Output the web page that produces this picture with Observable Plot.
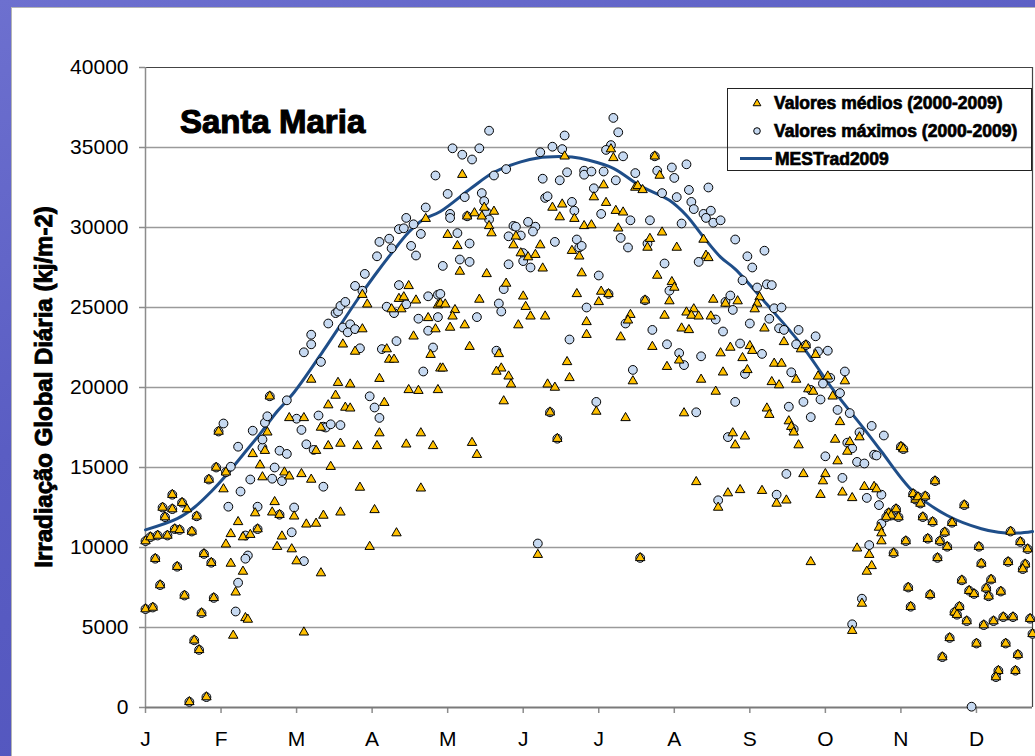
<!DOCTYPE html>
<html>
<head>
<meta charset="utf-8">
<script src="https://cdn.jsdelivr.net/npm/d3@7"></script>
<script src="https://cdn.jsdelivr.net/npm/@observablehq/plot@0.6"></script>
<style>
  html, body { margin: 0; padding: 0; }
  body {
    width: 1035px; height: 756px; overflow: hidden; position: relative;
    background: linear-gradient(160deg, #6d70cf 0%, #5a5dc3 40%, #4e51bb 100%);
    font-family: "Liberation Sans", Arial, sans-serif;
  }
  #panel {
    position: absolute; left: 11px; top: 7px; width: 1030px; height: 755px;
    background: #ffffff; border-left: 1.5px solid #b4b4b4; border-top: 1.5px solid #b4b4b4;
  }
  #chart { position: absolute; left: 0; top: 0; }
  #overlay { position: absolute; left: 0; top: 0; pointer-events: none; }
  #chart svg [aria-label="x-axis tick"] path,
  #chart svg [aria-label="y-axis tick"] path,
  #chart svg [aria-label="x-axis"] line,
  #chart svg [aria-label="y-axis"] line { stroke: #8c8c8c; stroke-width: 1.5px; }
</style>
</head>
<body>
<div id="panel"></div>
<div id="chart"></div>
<svg id="overlay" width="1035" height="756"></svg>
<script>
// ---- axis definitions ----
const monthLabels = ["J","F","M","A","M","J","J","A","S","O","N","D"];
const monthTicks = [0,31,62,93,124,155,186,217,248,279,310,341];
const yTicks = [0,5000,10000,15000,20000,25000,30000,35000,40000];

// ---- Valores médios (2000-2009): [dia, kJ/m2] ----
const medios = [
[0,10400],[2,10650],[5,10750],[9,10750],[4,9300],[7,12500],[11,12400],[8,11900],[11,13300],[12,11150],
[14,11100],[15,12800],[17,12400],[19,11000],[21,11950],[6,7650],[13,8800],[16,7000],[0,6150],[3,6250],
[20,4200],[22,3600],[18,350],[25,650],[24,9600],[27,9050],[23,5900],[28,6850],[30,17250],[26,14250],
[29,15000],[32,13650],[33,14700],[38,11600],[35,10850],[33,10200],[40,10650],[43,10800],[46,11150],[45,12150],
[35,9000],[40,8500],[37,7200],[41,5600],[42,5500],[36,4500],[44,15850],[47,15150],[48,14400],[50,17200],
[49,16050],[51,19450],[53,12850],[52,12200],[55,12050],[56,10700],[54,10050],[57,14700],[59,14450],[59,18100],
[60,9900],[61,11950],
[65,18100],[72,17500],[75,18900],[78,19500],[82,18750],[84,18700],[79,20300],[84,20200],[68,20500],[70,16050],
[75,16350],[80,16500],[87,16350],[95,16350],[96,17150],[98,19050],[96,20550],[64,14600],[68,14250],[76,15050],
[66,11450],[70,11500],[73,12000],[80,12200],[62,9150],[72,8400],[65,4700],[88,13750],[94,12350],[92,10050],
[103,10900],[113,13700],[107,16450],[113,17150],[118,16350],[108,19850],[112,19800],[120,19850],[121,21200],[81,22700],
[86,22250],[89,23650],[89,25800],[91,25200],[99,22400],[100,21750],[102,21750],[101,24900],[104,25550],[106,25650],
[105,24900],[108,26350],[110,23200],[111,25450],[116,24350],[119,23650],[117,22050],[120,25150],[115,30550],
[130,33300],[139,31250],[143,31000],[135,30900],[138,30700],[132,30700],[141,30100],[142,29650],[124,29550],[128,28850],
[129,27250],[140,27100],[152,29450],[151,28900],[154,28400],[157,28150],[160,28300],[162,28900],[163,27450],[167,31250],
[172,34450],[171,31450],[170,30650],[176,30550],[180,30100],[175,28550],[178,28200],[179,27150],[148,26500],[121,25250],
[123,25200],[127,24850],[126,24450],[125,23750],[131,23900],[137,25500],[155,25700],[156,25050],[158,24450],[153,23900],
[164,24450],[177,25850],[181,24100],[181,23300],[133,22550],[145,22100],[122,21200],[146,21200],[144,21000],[149,20700],
[150,20200],[147,19150],[165,20200],[168,20000],[173,21600],[174,20600],[166,18450],[169,16800],[134,16550],[136,15800],
[161,9550],
[191,34900],[192,34350],[188,32650],[184,31900],[189,31550],[193,31050],[196,30950],[183,30150],[194,29950],[201,32500],
[202,32600],[204,32350],[207,29300],[206,28750],[209,34450],[211,33250],[212,29700],[218,28750],[210,27000],[229,29250],
[230,28250],[231,28100],[187,26000],[190,25850],[186,25350],[195,23150],[199,24550],[198,24200],[205,25450],[208,22550],
[215,25400],[213,24500],[216,26600],[217,26250],[214,21300],[219,21700],[222,24700],[225,24900],[224,24500],[227,24450],
[220,23700],[223,23600],[232,24450],[233,25500],[238,25250],[240,22500],[236,22150],[228,20500],[237,20950],[234,19750],
[200,20400],[185,18500],[197,18100],[221,18400],[241,17150],[242,16400],[226,14100],[239,13400],[235,12500],[203,9350],
[252,25650],[251,25250],[250,24900],[243,25400],[254,23700],[262,22850],[248,22600],[249,22300],[245,21850],[269,22400],
[271,22650],[275,22050],[258,21500],[261,21500],[247,21100],[267,20500],[257,20350],[260,20150],[276,20700],[280,20700],
[287,20400],[272,19900],[274,19750],[282,19450],[255,18700],[256,18300],[285,17850],[264,17900],[265,17550],[266,17200],
[246,16950],[268,16400],[283,16750],[289,16600],[288,16000],[293,16900],[284,15400],[270,14600],[279,14600],[278,14150],
[244,13600],[253,13550],[259,12750],[263,12950],[277,13300],[286,13450],[290,13100],[295,13800],[299,13800],[300,13650],
[301,11250],[302,10900],[302,10400],[273,9100],[292,9950],[297,9550],[298,8850],[296,8500],[290,4800],[294,6500],
[310,16300],[311,16150],[324,14150],[315,13350],[316,13000],[317,13150],[318,12750],[320,13200],[336,12650],[308,12400],
[305,12150],[306,12000],[309,11900],[304,11900],[319,11900],[323,11600],[331,11550],[328,10950],[312,10400],[321,10550],
[326,10400],[329,10050],[342,10050],[355,11000],[359,10350],[362,9900],[307,9650],[325,9350],[343,9000],[354,9100],
[361,8950],[360,8650],[313,7500],[322,7050],[314,6300],[335,7950],[338,7300],[340,7100],[347,8000],[345,7450],
[346,6950],[351,7250],[334,6300],[332,5950],[333,5800],[337,5400],[344,5150],[348,5400],[352,5650],[356,5650],
[363,5550],[364,4600],[330,4350],[341,4000],[353,4000],[358,3300],[327,3150],[350,2300],[349,1900],[357,2300]
];

// ---- Valores máximos (2000-2009): [dia, kJ/m2] ----
const maximos = [
[0,10400],[2,10650],[5,10750],[9,10750],[4,9300],[7,12500],[11,12400],[8,11900],[11,13300],[12,11150],
[14,11100],[15,12800],[19,11000],[21,11950],[6,7650],[13,8800],[16,7000],[0,6150],[3,6250],[20,4200],
[22,3600],[18,350],[25,650],[24,9600],[27,9050],[23,5900],[28,6850],[30,17250],[26,14250],[29,15000],
[33,14700],[46,11150],[51,19450],[55,12050],
[32,17750],[35,15050],[34,12550],[39,13500],[42,9500],[41,9300],[38,7800],[37,6000],[38,16300],[44,17300],
[43,14250],[48,16250],[48,16750],[49,17800],[50,18200],[52,14300],[53,15000],[55,16050],[58,15850],[56,14150],
[58,19200],[61,12500],[60,10950],[46,12550],[41,10750],
[62,18050],[64,17350],[71,18250],[73,17550],[74,17500],[76,17700],[80,17650],[66,16450],[69,16100],[73,13800],
[65,9150],[92,19450],[94,18750],[96,18100],[65,22200],[68,22700],[68,23300],[72,21600],[75,24000],[78,24650],
[79,24750],[80,25100],[82,25350],[81,23750],[84,23950],[83,23450],[86,23650],[88,22450],[86,26350],[89,26050],
[90,27100],[95,28200],[96,29100],[100,29300],[101,28700],[97,22400],[103,22900],[99,25050],[102,24650],[104,26400],
[107,25200],[112,24300],[116,25700],[116,23550],[118,22500],[120,24400],[120,25800],[104,29900],[106,29950],[107,30600],
[110,30200],[109,28850],[111,28250],[113,29600],[115,31250],[119,33250],[114,21000],
[141,36050],[126,34950],[130,34550],[134,34250],[137,34950],[143,33250],[148,33650],[124,32100],[131,31900],[138,32150],
[139,31650],[140,30950],[132,30700],[125,30850],[125,30600],[141,30500],[128,29650],[133,29000],[129,28000],[133,27850],
[122,27600],[149,27700],[151,30100],[152,30050],[149,29450],[154,29500],[157,30350],[160,30050],[159,29750],[155,28400],
[155,27900],[158,27500],[163,33050],[162,34700],[164,31850],[165,31950],[167,35050],[171,34900],[172,35750],[170,32950],
[173,33450],[175,31600],[176,31050],[180,33550],[180,33300],[168,29100],[177,29250],[178,28750],[179,28850],[147,26150],
[121,25850],[136,24400],[145,25250],[146,24750],[181,25000],[174,23000],[144,22300],[166,18450],[169,16800],[161,10250],
[192,36850],[194,35950],[191,35150],[189,34850],[196,34450],[183,33500],[188,33500],[193,32950],[184,32450],[187,30850],
[195,29350],[198,28750],[199,30450],[201,33400],[207,30450],[206,29000],[209,34450],[210,33550],[212,32150],[216,33750],
[217,33100],[218,31900],[213,27750],[220,30250],[222,33950],[223,32350],[224,31600],[225,31150],[231,32500],[229,30850],
[232,31050],[230,30600],[233,30300],[236,30450],[227,27850],[242,29250],[186,27000],[190,25850],[197,24000],[205,25450],
[208,23600],[215,26050],[214,22700],[219,22150],[221,21400],[234,24250],[237,23500],[238,25350],[240,25750],[241,24850],
[228,21950],[200,21100],[185,19100],[226,18450],[242,19100],[239,16900],[235,12950],[203,9350],
[247,28200],[254,28550],[249,27500],[245,26700],[251,26250],[255,26450],[257,26400],[258,24950],[261,25000],[256,24300],
[248,24000],[260,23700],[262,23600],[268,23600],[275,23200],[244,22750],[253,22100],[267,22700],[271,22650],[276,22250],
[280,22300],[246,20850],[265,20950],[281,20600],[287,21000],[278,20250],[273,19850],[277,19250],[285,19650],[270,19100],
[264,18800],[273,18150],[284,18600],[289,18400],[266,17400],[288,16550],[290,16200],[293,17200],[298,17600],[303,17000],
[299,15800],[300,15750],[292,15350],[295,15250],[279,15700],[263,14600],[286,14350],[259,13300],[296,13100],[302,13300],
[301,12650],[302,11500],[297,10150],[290,5200],[294,6800],
[310,16300],[311,16150],[324,14150],[315,13350],[316,13000],[317,13150],[318,12750],[320,13200],[336,12650],[308,12400],
[305,12150],[306,12000],[309,11900],[304,11900],[319,11900],[323,11600],[331,11550],[328,10950],[312,10400],[321,10550],
[326,10400],[329,10050],[342,10050],[355,11000],[359,10350],[362,9900],[307,9650],[325,9350],[343,9000],[354,9100],
[361,8950],[360,8650],[313,7500],[322,7050],[314,6300],[335,7950],[338,7300],[340,7100],[347,8000],[345,7450],
[346,6950],[351,7250],[334,6300],[332,5950],[333,5800],[337,5400],[344,5150],[348,5400],[352,5650],[356,5650],
[363,5550],[364,4600],[330,4350],[341,4000],[353,4000],[358,3300],[327,3150],[350,2300],[349,1900],[357,2300],
[339,50]
];

// ---- MESTrad2009 (curva): [dia, kJ/m2] ----
const mestrad = [
[0,11100],[13,11800],[20,12500],[27,13500],[33,14500],[40,15800],[47,17100],[54,18500],[61,19700],[73,22300],
[80,23900],[87,25500],[94,27000],[101,28400],[108,29700],[114,30500],[121,31000],[134,32500],[143,33450],[154,34100],
[161,34350],[170,34430],[175,34400],[182,34200],[192,33700],[203,32600],[215,31700],[222,30750],[229,29400],[236,28150],
[242,27400],[255,25200],[269,22700],[282,19900],[296,17200],[302,16000],[315,13500],[329,12000],[343,11170],[350,10950],
[358,10900],[364,11000]
];

const toObj = a => a.map(([d, v]) => ({d, v}));

const chart = Plot.plot({
  width: 1035,
  height: 756,
  marginLeft: 145,
  marginRight: 3,
  marginTop: 67,
  marginBottom: 49,
  style: {background: "transparent", fontFamily: "'Liberation Sans', Arial, sans-serif", fontSize: "21px", color: "black", overflow: "visible"},
  x: {domain: [0, 364], ticks: monthTicks, tickFormat: d => monthLabels[monthTicks.indexOf(d)], tickSize: 6, tickPadding: 18, label: null},
  y: {domain: [0, 40000], ticks: yTicks, tickFormat: d => String(d), tickSize: 6, tickPadding: 11, label: null},
  marks: [
    Plot.ruleY(yTicks.filter(t => t > 0 && t < 40000), {stroke: "#9a9a9a", strokeWidth: 1.5}),
    Plot.ruleY([40000], {stroke: "#444", strokeWidth: 1.2}),
    Plot.ruleX([364], {stroke: "#444", strokeWidth: 1.2}),
    Plot.ruleX([0], {stroke: "#8c8c8c", strokeWidth: 1.5}),
    Plot.ruleY([0], {stroke: "#7a7a7a", strokeWidth: 2}),
    Plot.line(toObj(mestrad), {x: "d", y: "v", curve: "catmull-rom", stroke: "#1f4e89", strokeWidth: 3}),
    Plot.dot(toObj(maximos), {x: "d", y: "v", r: 4.4, fill: "#c6d9f1", stroke: "#000", strokeWidth: 1}),
    Plot.dot(toObj(medios), {x: "d", y: "v", symbol: "triangle", r: 3.5, fill: "#ffc000", stroke: "#000", strokeWidth: 1})
  ]
});
document.getElementById("chart").appendChild(chart);

// ---- overlay: title, y label, legend ----
const ov = d3.select("#overlay");
const bold = "'Liberation Sans', Arial, sans-serif";

ov.append("text").attr("x", 180).attr("y", 133)
  .attr("font-family", bold).attr("font-weight", "bold").attr("font-size", 33)
  .attr("stroke", "#000").attr("stroke-width", 1.1).attr("fill", "#000")
  .text("Santa Maria");

ov.append("text").attr("transform", "translate(52,387) rotate(-90)")
  .attr("text-anchor", "middle")
  .attr("font-family", bold).attr("font-weight", "bold").attr("font-size", 24)
  .attr("stroke", "#000").attr("stroke-width", 0.9).attr("fill", "#000")
  .text("Irradiação Global Diária (kj/m-2)");

const lg = ov.append("g");
lg.append("rect").attr("x", 727.5).attr("y", 88.5).attr("width", 304).attr("height", 82)
  .attr("fill", "none").attr("stroke", "#222").attr("stroke-width", 1);
const tri = d3.symbol(d3.symbolTriangle, 26)();
lg.append("path").attr("d", tri).attr("transform", "translate(757,103.5)")
  .attr("fill", "#ffc000").attr("stroke", "#000").attr("stroke-width", 1);
lg.append("circle").attr("cx", 757).attr("cy", 131).attr("r", 3.3)
  .attr("fill", "#c6d9f1").attr("stroke", "#000").attr("stroke-width", 1);
lg.append("line").attr("x1", 740).attr("x2", 772).attr("y1", 158.5).attr("y2", 158.5)
  .attr("stroke", "#1f4e89").attr("stroke-width", 3);
const legendTexts = [["Valores médios (2000-2009)", 774, 109], ["Valores máximos (2000-2009)", 774, 137], ["MESTrad2009", 775, 164.5]];
legendTexts.forEach(([t, x, y]) => {
  lg.append("text").attr("x", x).attr("y", y)
    .attr("font-family", bold).attr("font-weight", "bold").attr("font-size", 17.5)
    .attr("stroke", "#000").attr("stroke-width", 0.7).attr("fill", "#000")
    .text(t);
});
</script>
</body>
</html>
